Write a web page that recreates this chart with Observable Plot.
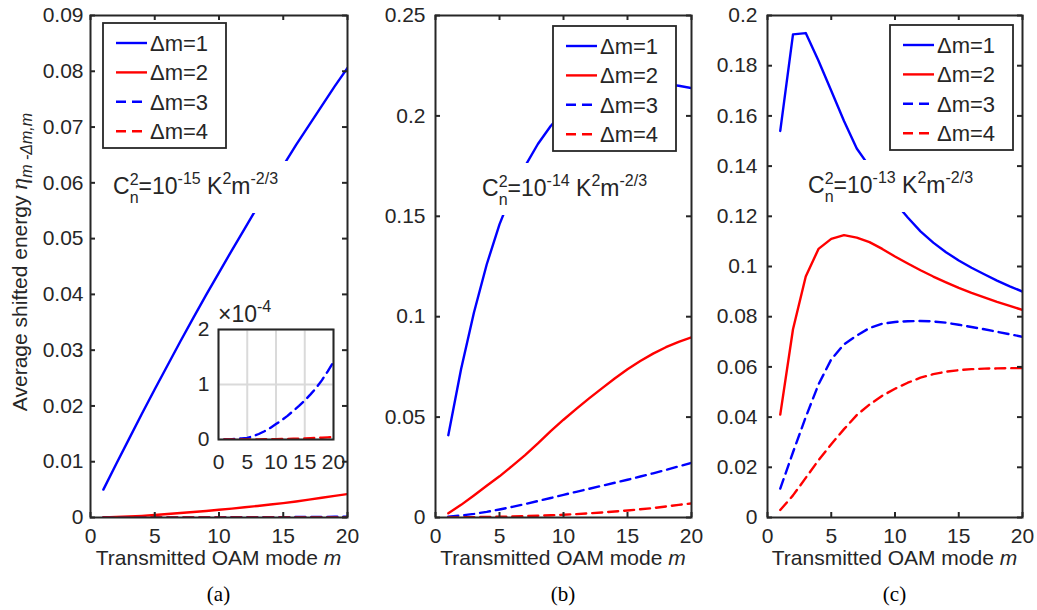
<!DOCTYPE html>
<html><head><meta charset="utf-8">
<script src="https://cdn.jsdelivr.net/npm/d3@7"></script>
<script src="https://cdn.jsdelivr.net/npm/@observablehq/plot@0.6"></script>
<style>
body{margin:0;background:#fff;}
#root{position:relative;width:1037px;height:610px;overflow:hidden;background:#fff;}
.pn{position:absolute;top:0;}
#overlay{position:absolute;left:0;top:0;pointer-events:none;}
</style></head><body><div id="root"></div>
<script>
// ---------- data ----------
const modes = [1,2,3,4,5,6,7,8,9,10,11,12,13,14,15,16,17,18,19,20];
const seriesNames = ["Δm=1","Δm=2","Δm=3","Δm=4"];
const seriesColors = ["#0000ff","#ff0000","#0000ff","#ff0000"];
const seriesDash = [undefined, undefined, "10,6", "10,6"];
const xTicks = [0,5,10,15,20];

// panel (a)  C_n^2 = 1e-15
const a1 = [0.0050,0.0096,0.0141,0.0186,0.0230,0.0273,0.0316,0.0358,0.0399,0.0439,0.0479,0.0518,0.0557,0.0594,0.0631,0.0668,0.0703,0.0738,0.0773,0.0806];
const a2 = [0.00003,0.00009,0.00018,0.0003,0.00045,0.00062,0.0008,0.00098,0.00117,0.00138,0.0016,0.00183,0.00207,0.00232,0.00258,0.00288,0.0032,0.00354,0.00387,0.0042];
const a3 = [0.000e-4,0.003e-4,0.01e-4,0.02e-4,0.03e-4,0.06e-4,0.10e-4,0.15e-4,0.21e-4,0.28e-4,0.35e-4,0.43e-4,0.52e-4,0.61e-4,0.71e-4,0.82e-4,0.94e-4,1.08e-4,1.24e-4,1.41e-4];
const a4 = [0,0,0,0.001e-4,0.001e-4,0.002e-4,0.003e-4,0.004e-4,0.005e-4,0.007e-4,0.009e-4,0.011e-4,0.014e-4,0.017e-4,0.020e-4,0.024e-4,0.028e-4,0.033e-4,0.038e-4,0.045e-4];
const aYTicks = [0,0.01,0.02,0.03,0.04,0.05,0.06,0.07,0.08,0.09];
const insetYTicks = [0,1e-4,2e-4];
const insetYLabels = ["0","1","2"];

// panel (b)  C_n^2 = 1e-14
const b1 = [0.041,0.074,0.102,0.126,0.146,0.162,0.175,0.186,0.195,0.202,0.207,0.211,0.214,0.216,0.217,0.217,0.2165,0.2158,0.215,0.2138];
const b2 = [0.0021,0.0063,0.0110,0.0158,0.0205,0.0257,0.0311,0.0369,0.0430,0.0487,0.0541,0.0593,0.0643,0.0692,0.0738,0.0779,0.0816,0.0848,0.0875,0.0897];
const b3 = [0.0004,0.0010,0.0018,0.0028,0.0040,0.0053,0.0067,0.0082,0.0097,0.0113,0.0128,0.0143,0.0158,0.0173,0.0188,0.0204,0.0220,0.0237,0.0255,0.0272];
const b4 = [0.0000,0.0001,0.0002,0.0003,0.0004,0.0005,0.0007,0.0009,0.0011,0.0014,0.0017,0.0021,0.0025,0.0030,0.0035,0.0041,0.0047,0.0055,0.0063,0.0070];
const bYTicks = [0,0.05,0.1,0.15,0.2,0.25];

// panel (c)  C_n^2 = 1e-13
const c1 = [0.154,0.1925,0.193,0.182,0.170,0.158,0.147,0.1398,0.1322,0.1255,0.1195,0.1140,0.1095,0.1057,0.1024,0.0995,0.0969,0.0944,0.0921,0.0900];
const c2 = [0.041,0.075,0.096,0.107,0.111,0.1125,0.1115,0.1097,0.1070,0.1040,0.1012,0.0985,0.0960,0.0937,0.0915,0.0895,0.0877,0.0859,0.0843,0.0827];
const c3 = [0.0115,0.026,0.040,0.053,0.063,0.069,0.0725,0.0755,0.0772,0.0779,0.0782,0.0783,0.0781,0.0776,0.0768,0.0759,0.0750,0.0740,0.0730,0.0720];
const c4 = [0.0030,0.0088,0.0158,0.0228,0.0292,0.0352,0.0408,0.0450,0.0485,0.0513,0.0537,0.0557,0.0571,0.0581,0.0587,0.0591,0.0593,0.0594,0.0595,0.0595];
const cYTicks = [0,0.02,0.04,0.06,0.08,0.1,0.12,0.14,0.16,0.18,0.2];

const panelLabels = ["(a)","(b)","(c)"];
const cn2Exponents = ["-15","-14","-13"];
const xLabelText = "Transmitted OAM mode ";

// ---------- drawing ----------
const FONT = "'Liberation Sans', Arial, Helvetica, sans-serif";
const AX = "#262626";
const root = document.getElementById("root");

function toRows(lists) {
  return lists.flatMap((vals, i) => modes.map((m, j) => ({m, v: vals[j], s: seriesNames[i]})));
}

function lineMarks(data, idx) {
  return idx.map(i => Plot.line(data.filter(d => d.s === seriesNames[i]), {
    x: "m", y: "v", stroke: seriesColors[i], strokeWidth: 2.4,
    strokeDasharray: seriesDash[i], clip: true
  }));
}

function makePanel(lists, yDomain, yTicks, o) {
  const H = 610, mT = 15, mB = 93, T = 5;
  const innerH = H - mT - mB, innerW = o.width - o.mL - o.mR;
  const data = toRows(lists);
  const svg = Plot.plot({
    width: o.width, height: H,
    marginLeft: o.mL, marginRight: o.mR, marginTop: mT, marginBottom: mB,
    style: {fontFamily: FONT, fontSize: "21px", color: AX, background: "transparent", overflow: "visible"},
    x: {domain: [0, 20], ticks: xTicks, tickSize: 0, tickPadding: 11, label: null},
    y: {domain: yDomain, ticks: yTicks, tickSize: 0, tickPadding: o.pad, label: null, tickFormat: d => String(d)},
    marks: [
      ...lineMarks(data, [0,1,2,3]),
      Plot.ruleX(xTicks, {stroke: AX, strokeWidth: 2, insetTop: innerH - T}),
      Plot.ruleX(xTicks, {stroke: AX, strokeWidth: 2, insetBottom: innerH - T}),
      Plot.ruleY(yTicks, {stroke: AX, strokeWidth: 2, insetRight: innerW - T}),
      Plot.ruleY(yTicks, {stroke: AX, strokeWidth: 2, insetLeft: innerW - T}),
      Plot.frame({stroke: AX, strokeWidth: 2})
    ]
  });
  const div = document.createElement("div");
  div.className = "pn";
  div.style.left = o.left + "px";
  div.style.width = o.width + "px";
  div.appendChild(svg);
  root.appendChild(div);
}

makePanel([a1,a2,a3,a4], [0, 0.09], aYTicks, {left: 0, width: 352, mL: 90, mR: 5, pad: 7});
makePanel([b1,b2,b3,b4], [0, 0.25], bYTicks, {left: 352, width: 343, mL: 83, mR: 4, pad: 10});
makePanel([c1,c2,c3,c4], [0, 0.2], cYTicks, {left: 695, width: 342, mL: 72, mR: 15, pad: 10});

// inset of panel (a)
(function () {
  const data = toRows([a1,a2,a3,a4]);
  const svg = Plot.plot({
    width: 160, height: 180, marginLeft: 38, marginRight: 7, marginTop: 29, marginBottom: 41,
    style: {fontFamily: FONT, fontSize: "21px", color: AX, background: "transparent", overflow: "visible"},
    x: {domain: [0, 20], ticks: xTicks, tickSize: 0, tickPadding: 15, label: null},
    y: {domain: [0, 2e-4], ticks: insetYTicks, tickSize: 0, tickPadding: 9, label: null,
        tickFormat: d => insetYLabels[insetYTicks.indexOf(d)]},
    marks: [
      Plot.frame({fill: "white"}),
      Plot.ruleX(xTicks, {stroke: "#dadada", strokeWidth: 2}),
      Plot.ruleY(insetYTicks, {stroke: "#dadada", strokeWidth: 2}),
      ...lineMarks(data, [2,3]),
      Plot.frame({stroke: AX, strokeWidth: 2})
    ]
  });
  const div = document.createElement("div");
  div.className = "pn";
  div.style.left = "180px";
  div.style.top = "300px";
  div.appendChild(svg);
  root.appendChild(div);
})();

// ---------- overlay: labels, legends, annotations ----------
function legend(x, y) {
  let s = `<rect x="${x}" y="${y}" width="123" height="125" fill="white" stroke="${AX}" stroke-width="1.8"/>`;
  seriesNames.forEach((name, i) => {
    const cy = y + 20 + i * 29.4;
    const dash = seriesDash[i] ? `stroke-dasharray="${seriesDash[i]}"` : "";
    s += `<line x1="${x+13}" x2="${x+44}" y1="${cy}" y2="${cy}" stroke="${seriesColors[i]}" stroke-width="2.4" ${dash}/>`;
    s += `<text x="${x+47}" y="${cy}" dy="0.36em" font-size="22">${name}</text>`;
  });
  return s;
}
function annotation(x, y, exp) {
  return `<rect x="${x-4}" y="${y-33}" width="182" height="52" fill="white"/>` +
    `<text x="${x}" y="${y}" font-size="23">C<tspan font-size="16" dy="-9">2</tspan>` +
    `<tspan font-size="16" dx="-8.9" dy="18">n</tspan>` +
    `<tspan dy="-9">=10</tspan><tspan font-size="16" dy="-10">${exp}</tspan>` +
    `<tspan dy="10"> K</tspan><tspan font-size="16" dy="-10">2</tspan>` +
    `<tspan dy="10">m</tspan><tspan font-size="16" dy="-10">-2/3</tspan></text>`;
}
const centers = [218.5, 563, 894.5];
let ov = `<svg id="overlay" width="1037" height="610" font-family="${FONT}" fill="${AX}">`;
ov += annotation(113, 194, cn2Exponents[0]);
ov += annotation(482, 196, cn2Exponents[1]);
ov += annotation(808, 193, cn2Exponents[2]);
ov += legend(103, 23) + legend(553, 26) + legend(890, 25);
centers.forEach((cx, i) => {
  ov += `<text x="${cx}" y="565" text-anchor="middle" font-size="21">${xLabelText}<tspan font-style="italic">m</tspan></text>`;
  ov += `<text x="${cx}" y="601" text-anchor="middle" font-size="21" font-family="'Liberation Serif','Times New Roman',serif" fill="#000">${panelLabels[i]}</text>`;
});
ov += `<text transform="translate(27,262) rotate(-90)" text-anchor="middle" font-size="21">Average shifted energy <tspan font-family="'Liberation Serif',serif" font-style="italic" font-size="24">η</tspan><tspan font-size="16" font-style="italic" dy="5">m -Δm,m</tspan></text>`;
ov += `<text x="218" y="322" font-size="23">×10<tspan font-size="16" dy="-10">-4</tspan></text>`;
ov += `</svg>`;
root.insertAdjacentHTML("beforeend", ov);
</script></body></html>
